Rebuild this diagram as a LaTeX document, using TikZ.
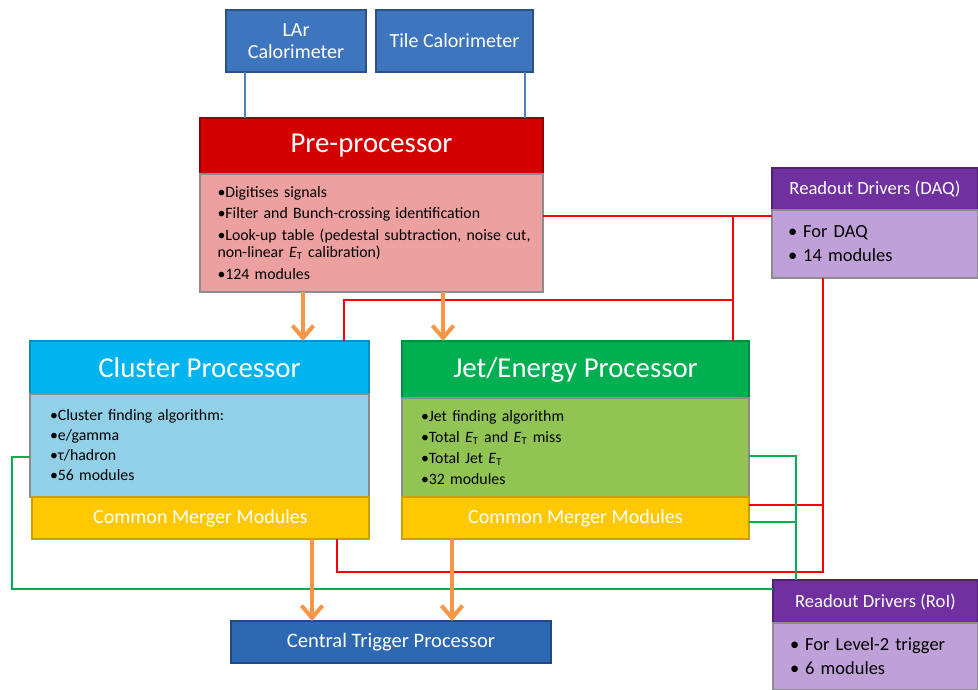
\documentclass[tikz,border=0pt]{standalone}
\usepackage{fontspec}
\setmainfont{Carlito}
\usepackage{tikz}
\usetikzlibrary{arrows.meta, shadows}
\definecolor{calblue}{RGB}{62,117,191}
\definecolor{callink}{RGB}{79,129,189}
\definecolor{prered}{RGB}{210,0,0}
\definecolor{prebody}{RGB}{236,160,160}
\definecolor{clublue}{RGB}{0,180,240}
\definecolor{clubody}{RGB}{146,208,232}
\definecolor{jetgreen}{RGB}{0,176,80}
\definecolor{jetbody}{RGB}{146,196,84}
\definecolor{cmmyellow}{RGB}{255,200,0}
\definecolor{ctpblue}{RGB}{46,104,178}
\definecolor{rodpurple}{RGB}{112,48,160}
\definecolor{rodbody}{RGB}{192,160,216}
\definecolor{feedorange}{RGB}{247,150,70}
\definecolor{roigreen}{RGB}{0,176,80}
\newcommand{\ET}{\textit{E}\textsubscript{T}}
\tikzset{
    box/.style={rectangle, inner sep=0pt, outer sep=0pt, line width=0.6pt,
        drop shadow={shadow xshift=0.8pt, shadow yshift=-0.8pt, opacity=0.3}},
    hdrbox/.style={box, text=white, font=\fontsize{16.4}{18}\selectfont},
    bodybox/.style={box, draw=black!45, align=left, text=black, font=\fontsize{9}{10}\selectfont},
    calbox/.style={box, fill=calblue, draw=calblue!70!black, text=white, align=center,
        font=\fontsize{11.4}{12.8}\selectfont},
    cmmbox/.style={box, fill=cmmyellow, draw=cmmyellow!80!black, text=white,
        font=\fontsize{11.4}{13}\selectfont, minimum height=0.84cm},
    rodhdr/.style={box, fill=rodpurple, draw=rodpurple!70!black, text=white,
        font=\fontsize{10.6}{12}\selectfont},
    rodbodybox/.style={bodybox, fill=rodbody, font=\fontsize{10.5}{13.6}\selectfont},
    feed/.style={draw=feedorange, line width=2.3pt, -{Straight Barb[length=7pt,width=12pt]}},
    calline/.style={draw=callink, line width=1.2pt},
    daqline/.style={draw=red, line width=1.3pt},
    roiline/.style={draw=roigreen, line width=1.2pt}
}
\begin{document}
\begin{tikzpicture}
            \useasboundingbox (0,0) rectangle (19.56,-13.8);

            % calorimeters
            \node[calbox, minimum width=2.8cm, minimum height=1.24cm]  (lar) at (5.92,-0.82) {LAr\\Calorimeter};
            \node[calbox, minimum width=3.14cm, minimum height=1.24cm] (tile) at (9.09,-0.82) {Tile Calorimeter};

            % pre-processor
            \node[hdrbox, fill=prered, draw=prered!70!black, minimum width=6.86cm, minimum height=1.12cm] (preh) at (7.43,-2.92) {Pre-processor};
            \node[bodybox, fill=prebody, minimum width=6.86cm, minimum height=2.36cm, text width=6.16cm, inner xsep=0.35cm] (preb) at (7.43,-4.66)
                {•Digitises signals\\[2.2pt]
                 •Filter and Bunch-crossing identification\\[2.2pt]
                 \mbox{•Look-up table (pedestal subtraction, noise cut,}\\
                 non-linear \ET{} calibration)\\[2.2pt]
                 •124 modules};

            % cluster processor
            \node[hdrbox, fill=clublue, draw=clublue!80!black, minimum width=6.78cm, minimum height=1.06cm] (cluh) at (3.99,-7.35) {Cluster Processor};
            \node[bodybox, fill=clubody, minimum width=6.78cm, minimum height=2.06cm, text width=5.98cm, inner xsep=0.4cm] (clb) at (3.99,-8.91)
                {•Cluster finding algorithm:\\[1.4pt]
                 •e/gamma\\[1.4pt]
                 •τ/hadron\\[1.4pt]
                 •56 modules};
            \node[cmmbox, minimum width=6.74cm] (ccmm) at (4.01,-10.36) {Common Merger Modules};

            % jet/energy processor
            \node[hdrbox, fill=jetgreen, draw=jetgreen!80!black, minimum width=6.94cm, minimum height=1.14cm] (jeth) at (11.51,-7.39) {Jet/Energy Processor};
            \node[bodybox, fill=jetbody, minimum width=6.94cm, minimum height=1.98cm, text width=6.18cm, inner xsep=0.38cm] (jetb) at (11.51,-8.95)
                {•Jet finding algorithm\\[1.8pt]
                 •Total \ET{} and \ET{} miss\\[1.8pt]
                 •Total Jet \ET\\[1.8pt]
                 •32 modules};
            \node[cmmbox, minimum width=6.94cm] (jcmm) at (11.51,-10.36) {Common Merger Modules};

            % central trigger processor
            \node[box, fill=ctpblue, draw=ctpblue!70!black, text=white, font=\fontsize{11.7}{13}\selectfont,
                minimum width=6.4cm, minimum height=0.84cm] (ctp) at (7.82,-12.84) {Central Trigger Processor};

            % readout drivers
            \node[rodhdr, minimum width=4.12cm, minimum height=0.84cm] (daqh) at (17.5,-3.78) {Readout Drivers (DAQ)};
            \node[rodbodybox, minimum width=4.12cm, minimum height=1.36cm, text width=3.48cm, inner xsep=0.32cm] (daqb) at (17.5,-4.88)
                {•\hspace{0.12cm}For DAQ\\ •\hspace{0.12cm}14 modules};
            \node[rodhdr, minimum width=4.1cm, minimum height=0.86cm] (roih) at (17.51,-12.03) {Readout Drivers (RoI)};
            \node[rodbodybox, minimum width=4.1cm, minimum height=1.34cm, text width=3.42cm, inner xsep=0.34cm] (roib) at (17.51,-13.13)
                {•\hspace{0.12cm}For Level-2 trigger\\ •\hspace{0.12cm}6 modules};

            % calorimeter links
            \draw[calline] ([xshift=0.38cm]lar.south west) -- ([xshift=0.38cm]lar.south west |- preh.north);
            \draw[calline] ([xshift=-0.16cm]tile.south east) -- ([xshift=-0.16cm]tile.south east |- preh.north);

            % DAQ readout
            \coordinate (dq) at ([xshift=-1.04cm]daqb.south);
            \coordinate (r1) at ([yshift=-0.12cm]daqb.north west);
            \draw[daqline] (preb.east |- r1) -- (r1);
            \draw[daqline] ([xshift=-0.32cm]jeth.north east) -- ([xshift=-0.32cm]jeth.north east |- r1);
            \draw[daqline] ([xshift=-0.5cm]cluh.north east) |- ([xshift=-0.32cm,yshift=0.82cm]jeth.north east);
            \draw[daqline] (dq) |- ([xshift=-0.64cm,yshift=-0.66cm]ccmm.south east) -- ([xshift=-0.64cm]ccmm.south east);
            \draw[daqline] ([yshift=0.26cm]jcmm.east) -- ([yshift=0.26cm]jcmm.east -| dq);

            % RoI readout
            \coordinate (gx) at ([xshift=-1.59cm]roih.north);
            \draw[roiline] ([yshift=-0.23cm]clb.west) -- ++(-0.36,0) |- ([yshift=0.25cm]roih.west);
            \draw[roiline] ([yshift=-0.17cm]jetb.east) -| (gx);
            \draw[roiline] ([yshift=-0.08cm]jcmm.east) -- ([yshift=-0.08cm]jcmm.east -| gx);

            % data flow
            \draw[feed] ([xshift=2.07cm]cluh.north |- preb.south) -- ([xshift=2.07cm]cluh.north);
            \draw[feed] ([xshift=-2.65cm]jeth.north |- preb.south) -- ([xshift=-2.65cm]jeth.north);
            \draw[feed] ([xshift=-1.58cm]ctp.north |- ccmm.south) -- ([xshift=-1.58cm]ctp.north);
            \draw[feed] ([xshift=1.22cm]ctp.north |- jcmm.south) -- ([xshift=1.22cm]ctp.north);
        \end{tikzpicture}
\end{document}
